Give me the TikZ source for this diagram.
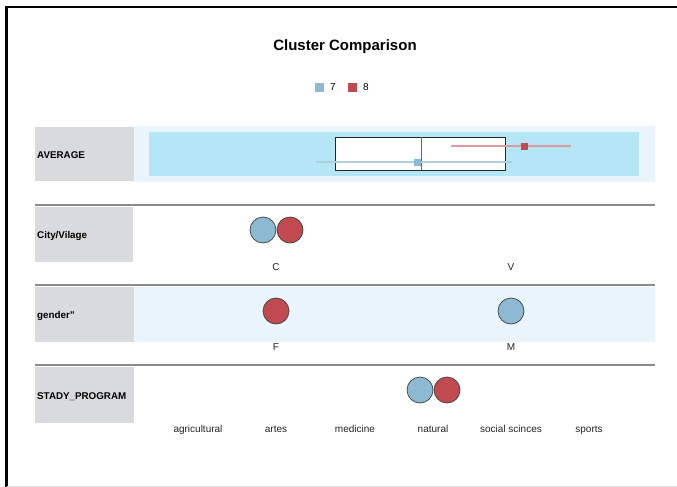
\documentclass[tikz,border=0pt]{standalone}
\usepackage{fontspec}
\setmainfont{Liberation Sans}
\definecolor{cblue}{HTML}{8DB9D2}
\definecolor{cred}{HTML}{C04A50}
\definecolor{lblgray}{HTML}{D9DADC}
\definecolor{band}{HTML}{EAF4FD}
\definecolor{cyanbox}{HTML}{B5E6F5}
\definecolor{sepgray}{HTML}{8A8A8A}
\definecolor{cattext}{HTML}{222222}
\tikzset{
  lblbox/.style={fill=lblgray, draw=none},
  lbltext/.style={font=\bfseries\fontsize{9.8}{11}\selectfont, anchor=base west, inner sep=0},
  cat/.style={font=\fontsize{10}{11}\selectfont, text=cattext, anchor=base, inner sep=0},
  sep/.style={draw=sepgray, line width=2pt},
  bubble/.style={circle, draw=black!75, line width=0.7pt, minimum size=26pt, inner sep=0},
  bluebub/.style={bubble, fill=cblue},
  redbub/.style={bubble, fill=cred},
}
\begin{document}
\begin{tikzpicture}[x=1pt,y=-1pt]
\useasboundingbox (0,0) rectangle (677,487);
\fill[white] (0,0) rectangle (677,487);
% outer frame
\draw[line width=2.5pt, black] (6.5,487) -- (6.5,7) -- (677,7);
\draw[black!10, line width=1pt] (6.5,486) -- (677,486);
% title and legend
\node[font=\bfseries\fontsize{15}{17}\selectfont, anchor=base, inner sep=0] (title) at (345,50.5) {Cluster Comparison};
\node[fill=cblue, minimum size=9pt, inner sep=0] (lg7) at (319.5,87) {};
\node[font=\fontsize{10}{11}\selectfont, anchor=base west, inner sep=0] (lt7) at (330,90.5) {7};
\node[fill=cred, minimum size=9pt, inner sep=0] (lg8) at (352.5,87) {};
\node[font=\fontsize{10}{11}\selectfont, anchor=base west, inner sep=0] (lt8) at (363,90.5) {8};
% AVERAGE row
\fill[lblbox] (35,127) rectangle (134,181);
\node[lbltext] (avg) at (37,158.5) {AVERAGE};
\fill[band] (134,126) rectangle (655,182);
\fill[cyanbox] (149,132) rectangle (639,176);
\draw[fill=white, draw=black!85, line width=0.9pt] (335,137) rectangle (505,170);
\draw[black!60, line width=1pt] (421,137) -- (421,170);
\draw[cred!55, line width=1.2pt] (451,146) -- (571,146);
\node[fill=cred, minimum size=7pt, inner sep=0] (rsq) at (524,146) {};
\draw[cblue!70, line width=1.2pt] (316,162) -- (512,162);
\node[fill=cblue, minimum size=7pt, inner sep=0] (bsq) at (417,162) {};
% separator
\draw[sep] (35,205) -- (655,205);
% City row
\fill[lblbox] (35,207) rectangle (133,262);
\node[lbltext] (city) at (37,238.5) {City/Vilage};
\node[bluebub] (c7) at (263,230) {};
\node[redbub] (c8) at (290,230) {};
\node[cat] (lc) at (276,270.5) {C};
\node[cat] (lv) at (511,270.5) {V};
\draw[sep] (35,285) -- (655,285);
% gender row
\fill[lblbox] (35,287) rectangle (134,342);
\fill[band] (134,287) rectangle (655,342);
\node[lbltext] (gen) at (37,318.5) {gender"};
\node[redbub] (g8) at (276,311) {};
\node[bluebub] (g7) at (511,311) {};
\node[cat] (lf) at (276,350.5) {F};
\node[cat] (lm) at (511,350.5) {M};
\draw[sep] (35,365) -- (655,365);
% study program row
\fill[lblbox] (35,367) rectangle (134,423);
\node[lbltext] (sp) at (37,399.5) {STADY\_PROGRAM};
\node[bluebub] (s7) at (420,390) {};
\node[redbub] (s8) at (447,390) {};
\node[cat] (l1) at (198,432.5) {agricultural};
\node[cat] (l2) at (276,432.5) {artes};
\node[cat] (l3) at (355,432.5) {medicine};
\node[cat] (l4) at (433,432.5) {natural};
\node[cat] (l5) at (511,432.5) {social scinces};
\node[cat] (l6) at (589,432.5) {sports};
\end{tikzpicture}
\end{document}
